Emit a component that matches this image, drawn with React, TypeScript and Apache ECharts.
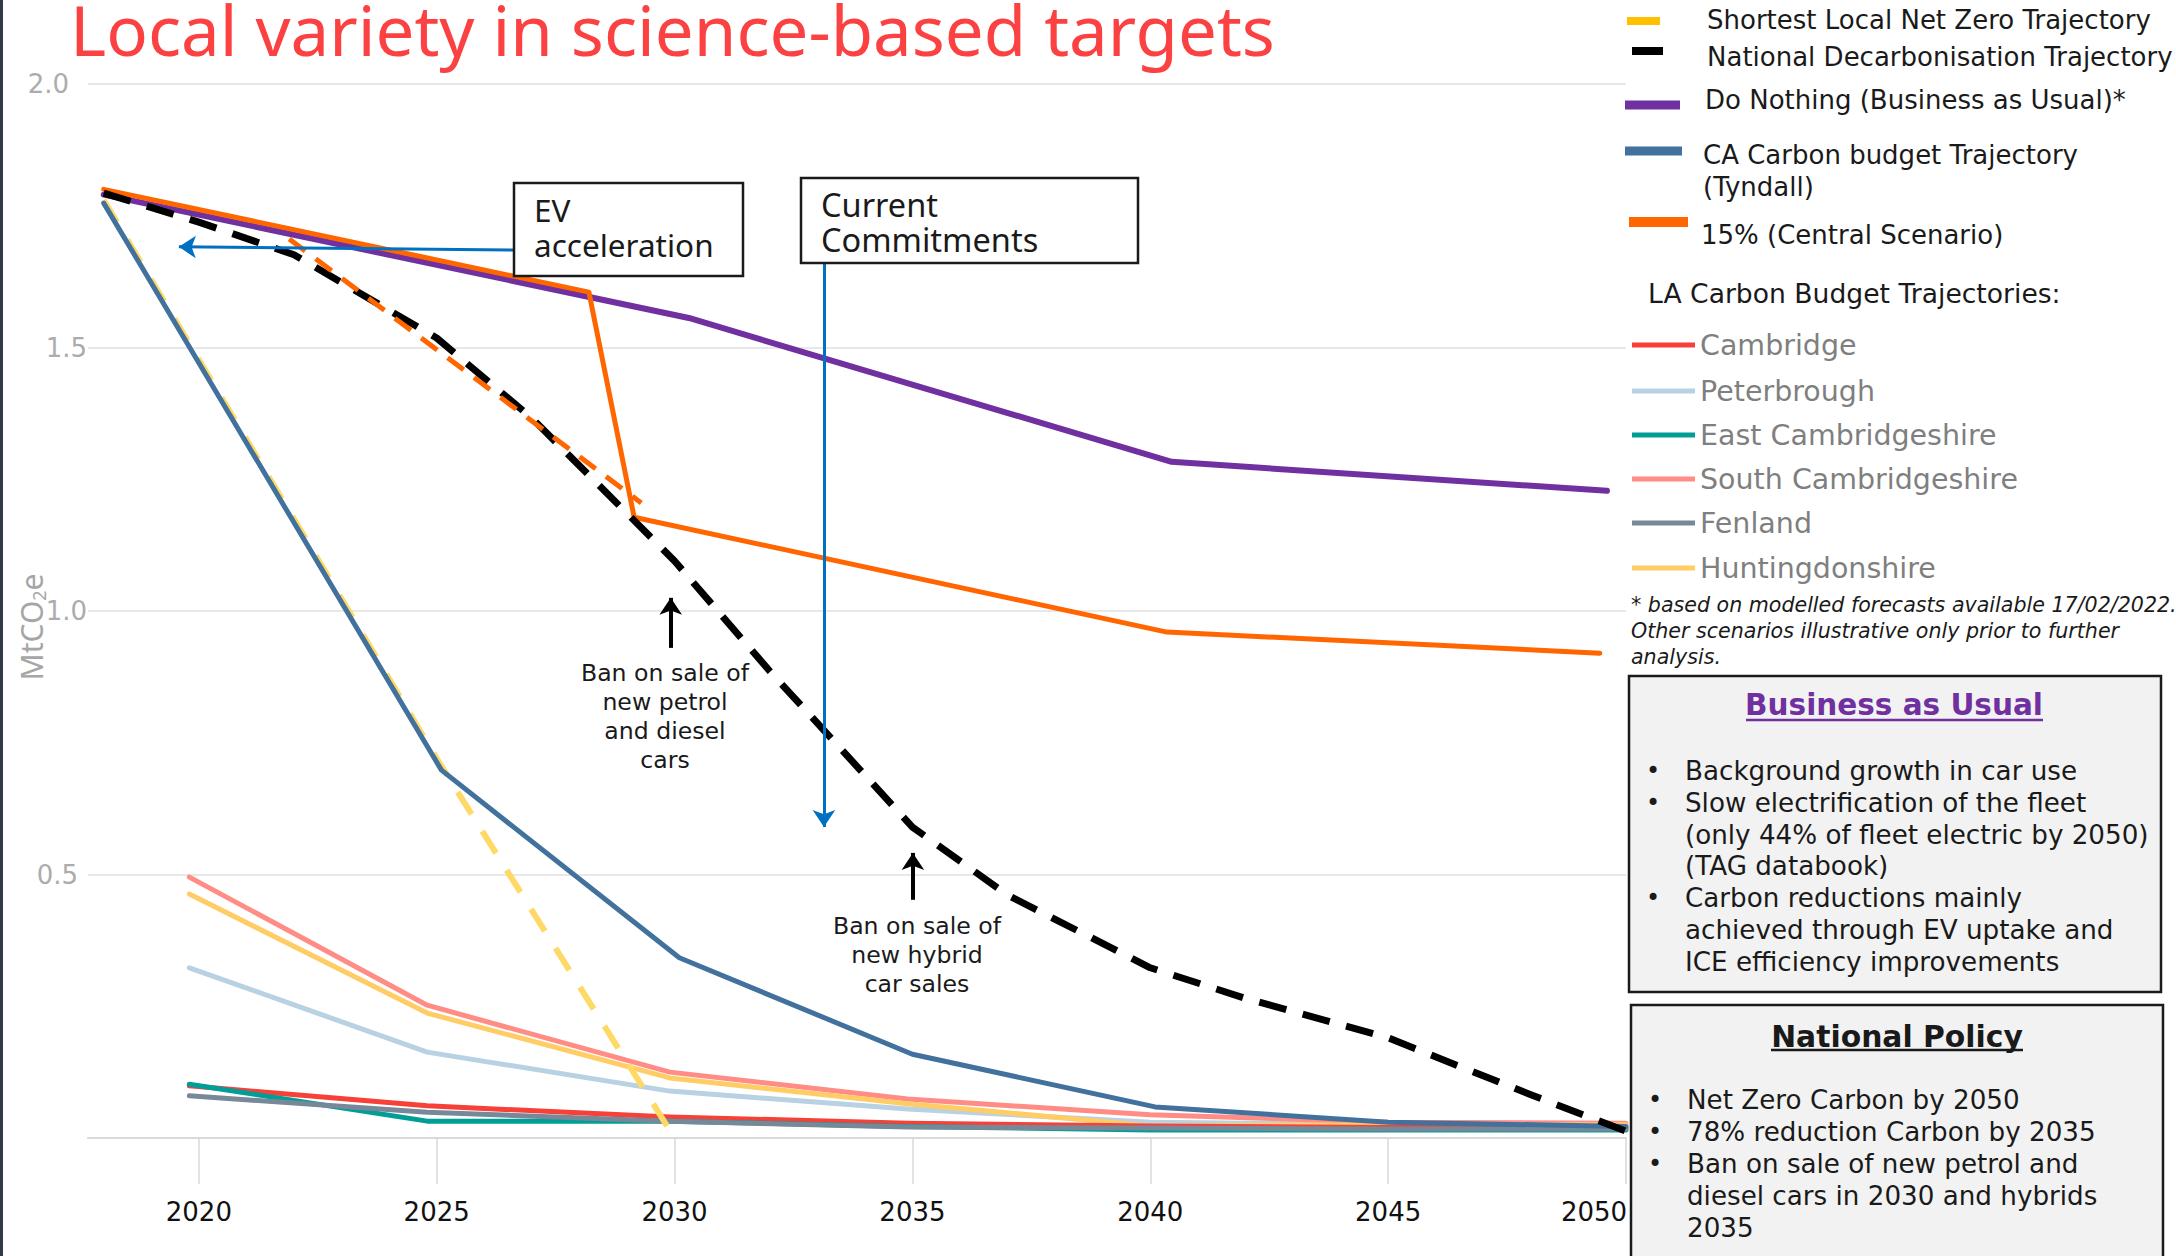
import { useEffect, useRef } from "react";
import * as echarts from "echarts";

const FONT = "'DejaVu Sans', 'Open Sans', sans-serif";
const SEGOE = "'Noto Sans', 'Open Sans', sans-serif";

// ---- axis ticks ----
const xTickYears = [2020, 2025, 2030, 2035, 2040, 2045, 2050];
const yTickStep = 0.5;

// ---- scenario trajectories (year, MtCO2e) ----
const doNothingYears = [2018, 2030.3, 2040.45, 2049.6];
const doNothingValues = [1.79, 1.556, 1.283, 1.228];

const centralYears = [2018, 2028.2, 2029.15, 2040.35, 2049.45];
const centralValues = [1.8, 1.605, 1.178, 0.96, 0.92];

const evAccelYears = [2021.9, 2029.3];
const evAccelValues = [1.706, 1.205];

const nationalYears = [2018, 2020, 2022, 2025, 2027, 2030, 2032, 2035, 2037, 2040, 2042, 2045, 2048, 2050];
const nationalValues = [1.793, 1.738, 1.676, 1.518, 1.366, 1.095, 0.886, 0.59, 0.461, 0.323, 0.265, 0.19, 0.082, 0.013];

const caBudgetYears = [2018, 2025.1, 2030.1, 2035, 2040.1, 2045, 2050];
const caBudgetValues = [1.774, 0.698, 0.342, 0.159, 0.059, 0.03, 0.022];

const shortestYears = [2018, 2025, 2030];
const shortestValues = [1.78, 0.72, 0];

// ---- LA carbon budget trajectories ----
const laYears = [2019.8, 2024.8, 2029.9, 2034.9, 2040, 2045, 2050];
const cambridge = [0.099, 0.061, 0.04, 0.028, 0.023, 0.02, 0.02];
const peterbrough = [0.323, 0.163, 0.089, 0.055, 0.03, 0.025, 0.025];
const eastCambs = [0.102, 0.032, 0.032, 0.022, 0.015, 0.015, 0.015];
const southCambs = [0.495, 0.252, 0.125, 0.074, 0.044, 0.03, 0.028];
const fenland = [0.08, 0.049, 0.032, 0.021, 0.019, 0.017, 0.017];
const hunts = [0.463, 0.237, 0.114, 0.065, 0.023, 0.025, 0.025];

// ---- annotation arrows (data coords: from [year, value] to [year, value]) ----
const arrowEV = [[2026.62, 1.685], [2019.58, 1.691]];
const arrowCommit = [[2033.14, 1.66], [2033.14, 0.59]];
const arrowPetrol = [[2029.92, 0.93], [2029.92, 1.025]];
const arrowHybrid = [[2035.01, 0.452], [2035.01, 0.541]];

// ---- texts ----
const bauBullets = [
  ["•", "Background growth in car use"],
  ["•", "Slow electrification of the fleet"],
  ["", "(only 44% of fleet electric by 2050)"],
  ["", "(TAG databook)"],
  ["•", "Carbon reductions mainly"],
  ["", "achieved through EV uptake and"],
  ["", "ICE efficiency improvements"],
];
const policyBullets = [
  ["•", "Net Zero Carbon by 2050"],
  ["•", "78% reduction Carbon by 2035"],
  ["•", "Ban on sale of new petrol and"],
  ["", "diesel cars in 2030 and hybrids"],
  ["", "2035"],
];
const noteLines = [
  "* based on modelled forecasts available 17/02/2022.",
  "Other scenarios illustrative only prior to further",
  "analysis.",
];
const petrolLines = ["Ban on sale of", "new petrol", "and diesel", "cars"];
const hybridLines = ["Ban on sale of", "new hybrid", "car sales"];

const pairs = (xs: number[], ys: number[]) => xs.map((x, i) => [x, ys[i]]);

function lineSeries(name: string, xs: number[], ys: number[], color: string, width: number, extra: any = {}) {
  const { lineStyle: ls = {}, ...rest } = extra;
  return {
    type: "line",
    name,
    data: pairs(xs, ys),
    symbol: "none",
    showSymbol: false,
    silent: true,
    emphasis: { disabled: true },
    itemStyle: { color },
    lineStyle: { color, width, cap: "round", join: "round", ...ls },
    ...rest,
  };
}

function txt(text: string, x: number, y: number, o: any = {}) {
  const { align = "left", ...rest } = o;
  return {
    type: "text",
    x,
    y,
    z: 120,
    silent: true,
    style: {
      text,
      fill: "#1a1a1a",
      fontFamily: FONT,
      fontSize: 24,
      textAlign: align,
      align,
      textVerticalAlign: "middle",
      verticalAlign: "middle",
      ...rest,
    },
  };
}

// legend icon: a bar from y0 to y1 inside a W x H box (box corners kept as empty points)
const barIcon = (w: number, h: number, y0: number, y1: number) =>
  `path://M0,0L0,0M${w},${h}L${w},${h}M0,${y0}L${w},${y0}L${w},${y1}L0,${y1}Z`;

function leg(name: string, color: string, left: number, top: number, w: number, h: number, padLeft: number, text: any = {}, icon = "rect", formatter?: any) {
  return {
    show: true,
    left,
    top,
    padding: 0,
    itemWidth: w,
    itemHeight: h,
    icon,
    symbolKeepAspect: false,
    selectedMode: false,
    itemStyle: { borderWidth: 0 },
    data: [{ name, itemStyle: { color, borderWidth: 0 } }],
    formatter,
    textStyle: { fontFamily: FONT, fontSize: 26, color: "#1a1a1a", lineHeight: 30, padding: [0, 0, 0, padLeft], ...text },
  };
}

function arrowPair(pts: number[][]) {
  return [{ coord: pts[0] }, { coord: pts[1] }];
}

function arrowMarks(color: string, width: number, list: number[][][]) {
  return {
    silent: true,
    symbol: ["none", "arrow"],
    symbolSize: 17,
    label: { show: false },
    emphasis: { disabled: true },
    lineStyle: { color, width, type: "solid" },
    itemStyle: { color },
    data: list.map(arrowPair),
  };
}

// y label right-padding (shift) per tick, as laid out in the original slide
const yLabelShift: Record<string, string> = { "2.0": "a", "1.5": "b", "1.0": "b", "0.5": "c" };

export default function App() {
  const ref = useRef<HTMLDivElement>(null);
  useEffect(() => {
    const chart = echarts.init(ref.current!, null, { renderer: "svg" });
    const LA_TEXT = { color: "#7f7f7f", fontSize: 28.5 };
    const yLab = { color: "#acacac", fontSize: 26, fontFamily: FONT };

    const graphic: any[] = [
      { type: "rect", shape: { x: 0, y: 0, width: 3, height: 1256 }, style: { fill: "#2f3b4c" }, z: 120, silent: true },
      txt("Local variety in science-based targets", 70, 29, { fill: "#fb4141", fontSize: 69, fontFamily: SEGOE }),
      // EV acceleration box
      { type: "rect", shape: { x: 514, y: 183, width: 229, height: 93 }, style: { fill: "#fff", stroke: "#1a1a1a", lineWidth: 2.5 }, z: 110, silent: true },
      txt("EV\nacceleration", 534, 227, { fontSize: 31.5, fontFamily: SEGOE, lineHeight: 35 }),
      // Current commitments box
      { type: "rect", shape: { x: 801, y: 178, width: 337, height: 85 }, style: { fill: "#fff", stroke: "#1a1a1a", lineWidth: 2.5 }, z: 110, silent: true },
      txt("Current\nCommitments", 821, 222, { fontSize: 32.5, fontFamily: SEGOE, lineHeight: 35 }),
      txt(petrolLines.join("\n"), 665, 716, { align: "center", fontSize: 23.6, lineHeight: 29 }),
      txt(hybridLines.join("\n"), 917, 955, { align: "center", fontSize: 23.6, lineHeight: 29 }),
      // right panel
      txt("LA Carbon Budget Trajectories:", 1648, 293, { fontSize: 26.6 }),
      txt(noteLines.join("\n"), 1631, 631, { fontSize: 20.6, fontStyle: "italic", lineHeight: 26 }),
      { type: "rect", shape: { x: 1629, y: 676, width: 532, height: 316 }, style: { fill: "#f2f2f2", stroke: "#1a1a1a", lineWidth: 2.5 }, z: 110, silent: true },
      txt("Business as Usual", 1894, 705, { align: "center", fontSize: 29.5, fontWeight: "bold", fill: "#7030a0" }),
      { type: "line", shape: { x1: 1746, y1: 720, x2: 2043, y2: 720 }, style: { stroke: "#7030a0", lineWidth: 2.5 }, z: 120, silent: true },
      ...bauBullets.map(([b], i) => (b ? txt(b, 1653, 771 + i * 31.8, { align: "center", fontSize: 24 }) : null)).filter(Boolean),
      txt(bauBullets.map(([, t]) => t).join("\n"), 1685, 771 + 3 * 31.8, { fontSize: 26.2, lineHeight: 31.8 }),
      { type: "rect", shape: { x: 1631, y: 1005, width: 532, height: 300 }, style: { fill: "#f2f2f2", stroke: "#1a1a1a", lineWidth: 2.5 }, z: 110, silent: true },
      txt("National Policy", 1897, 1036, { align: "center", fontSize: 29.8, fontWeight: "bold" }),
      { type: "line", shape: { x1: 1771, y1: 1050, x2: 2023, y2: 1050 }, style: { stroke: "#1a1a1a", lineWidth: 2.5 }, z: 120, silent: true },
      ...policyBullets.map(([b], i) => (b ? txt(b, 1655, 1100 + i * 32, { align: "center", fontSize: 24 }) : null)).filter(Boolean),
      txt(policyBullets.map(([, t]) => t).join("\n"), 1687, 1100 + 2 * 32, { fontSize: 26.2, lineHeight: 32 }),
    ];

    const option: any = {
      animation: false,
      backgroundColor: "#ffffff",
      textStyle: { fontFamily: FONT },
      grid: { left: 88, right: 550, top: 84, bottom: 118, containLabel: false, outerBoundsMode: "none" },
      xAxis: {
        type: "value",
        min: 2017.67,
        max: 2050,
        axisLine: { show: true, onZero: true, lineStyle: { color: "#d9d9d9", width: 2 } },
        axisTick: { show: true, customValues: xTickYears, length: 46, lineStyle: { color: "#d9d9d9", width: 1.5 } },
        axisLabel: {
          customValues: xTickYears,
          color: "#111",
          fontSize: 26,
          fontFamily: FONT,
          margin: 61,
          formatter: (v: number) => (v === 2050 ? "{e|2050}" : String(v)),
          rich: { e: { fontSize: 26, fontFamily: FONT, color: "#111", padding: [0, 64, 0, 0] } },
        },
        splitLine: { show: false },
      },
      yAxis: {
        type: "value",
        min: 0,
        max: 2,
        interval: yTickStep,
        axisLine: { show: false },
        axisTick: { show: false },
        splitLine: { lineStyle: { color: "#e8e8e8", width: 2 } },
        axisLabel: {
          ...yLab,
          margin: 0,
          formatter: (v: number) => {
            if (v === 0) return "";
            const s = v.toFixed(1);
            return `{${yLabelShift[s] || "b"}|${s}}`;
          },
          rich: {
            a: { ...yLab, padding: [0, 19, 0, 0] },
            b: { ...yLab, padding: [0, 1, 0, 0] },
            c: { ...yLab, padding: [0, 10, 0, 0] },
          },
        },
        name: "MtCO{s|2}e",
        nameLocation: "middle",
        nameGap: 40,
        nameMoveOverlap: false,
        nameTextStyle: {
          color: "#a6a6a6",
          fontSize: 30,
          fontFamily: SEGOE,
          padding: [0, 32, 0, 0],
          rich: { s: { fontSize: 18, color: "#a6a6a6", fontFamily: SEGOE, padding: [16, 0, 0, 0] } },
        },
      },
      legend: [
        leg("Shortest Local Net Zero Trajectory", "#ffc000", 1627, 5, 33, 30, 42, {}, barIcon(33, 30, 12, 20)),
        leg("National Decarbonisation Trajectory", "#000000", 1632, 42, 31, 30, 39, {}, barIcon(31, 30, 5, 13)),
        leg("Do Nothing (Business as Usual)*", "#7030a0", 1625, 85, 55, 30, 20, {}, barIcon(55, 30, 15.5, 24.5)),
        leg("CA Carbon budget Trajectory (Tyndall)", "#41719c", 1625, 139, 57, 64, 16, { lineHeight: 32 }, barIcon(57, 64, 7.5, 16.5), () => "CA Carbon budget Trajectory\n(Tyndall)"),
        leg("15% (Central Scenario)", "#ff6600", 1629, 216, 59, 38, 8, {}, barIcon(59, 38, 1, 11)),
        leg("Cambridge", "#f64038", 1632, 330, 63, 5, 0, LA_TEXT),
        leg("Peterbrough", "#b8d1e3", 1632, 376, 63, 5, 0, LA_TEXT),
        leg("East Cambridgeshire", "#009e96", 1632, 420, 63, 5, 0, LA_TEXT),
        leg("South Cambridgeshire", "#ff8c85", 1632, 464, 63, 5, 0, LA_TEXT),
        leg("Fenland", "#778899", 1632, 508, 63, 5, 0, LA_TEXT),
        leg("Huntingdonshire", "#ffcc66", 1632, 553, 63, 5, 0, LA_TEXT),
      ],
      graphic,
      series: [
        lineSeries("Peterbrough", laYears, peterbrough, "#b8d1e3", 5),
        lineSeries("South Cambridgeshire", laYears, southCambs, "#ff8c85", 5),
        lineSeries("Huntingdonshire", laYears, hunts, "#ffcc66", 5),
        lineSeries("Cambridge", laYears, cambridge, "#f64038", 5),
        lineSeries("East Cambridgeshire", laYears, eastCambs, "#009e96", 5),
        lineSeries("Fenland", laYears, fenland, "#778899", 5),
        lineSeries("Shortest Local Net Zero Trajectory", shortestYears, shortestValues, "#ffd966", 6, {
          lineStyle: { type: [26, 20], cap: "butt" },
        }),
        lineSeries("CA Carbon budget Trajectory (Tyndall)", caBudgetYears, caBudgetValues, "#41719c", 5),
        lineSeries("Do Nothing (Business as Usual)*", doNothingYears, doNothingValues, "#7030a0", 6, {
          markLine: arrowMarks("#0070c0", 3, [arrowEV, arrowCommit]),
        }),
        lineSeries("15% (Central Scenario)", centralYears, centralValues, "#ff6600", 5),
        lineSeries("National Decarbonisation Trajectory", nationalYears, nationalValues, "#000000", 7, {
          lineStyle: { type: [28, 17], cap: "butt" },
          markLine: arrowMarks("#000000", 4, [arrowPetrol, arrowHybrid]),
        }),
        lineSeries("EV acceleration (15%)", evAccelYears, evAccelValues, "#ff6600", 5, {
          lineStyle: { type: [20, 13], cap: "butt" },
        }),
      ],
    };
    chart.setOption(option);
    return () => chart.dispose();
  }, []);
  return (
    <div
      ref={ref}
      style={{ position: "fixed", left: 0, top: 0, width: 2176, height: 1256, background: "#fff" }}
    />
  );
}
